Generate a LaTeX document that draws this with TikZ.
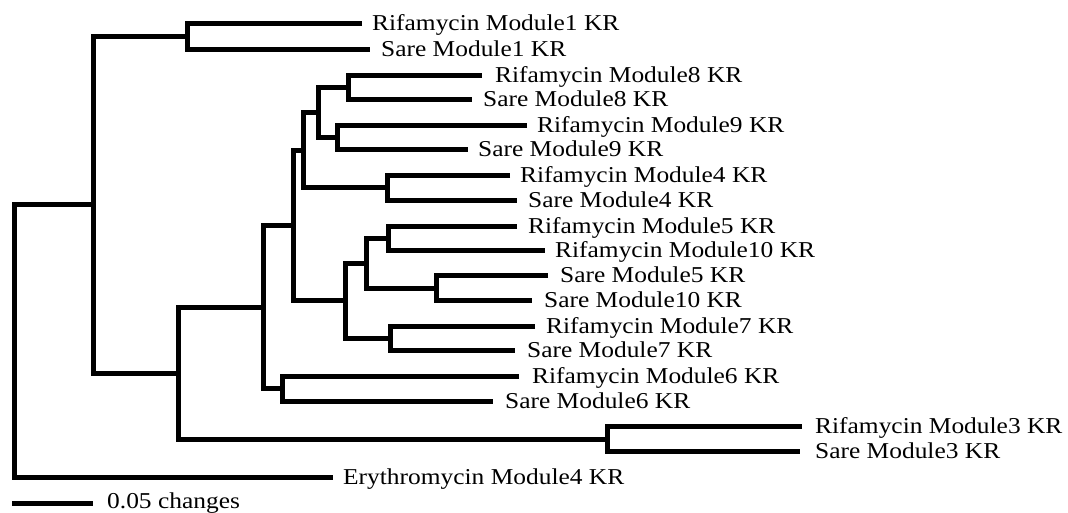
\documentclass[tikz,border=0pt]{standalone}
\usepackage{fontspec}
\setmainfont{Liberation Serif}[FakeStretch=1.12]
\begin{document}
\begin{tikzpicture}[x=1pt,y=-1pt,
  branch/.style={line width=5pt,line join=miter,black},
  lbl/.style={anchor=base west,inner sep=0pt,font=\fontsize{22.7}{27}\selectfont}]
\useasboundingbox (0,0) rectangle (1068,512);
% leaf tips
\coordinate (r1) at (362,23.5);
\coordinate (s1) at (370,49);
\coordinate (r8) at (482,75);
\coordinate (s8) at (472,99.5);
\coordinate (r9) at (527,125.5);
\coordinate (s9) at (468,149.5);
\coordinate (r4) at (510,175.5);
\coordinate (s4) at (517,200);
\coordinate (r5) at (517,226);
\coordinate (r10) at (545,250.5);
\coordinate (s5) at (548,275.5);
\coordinate (s10) at (532,300.5);
\coordinate (r7) at (535,326);
\coordinate (s7) at (515,350.5);
\coordinate (r6) at (519,376);
\coordinate (s6) at (493,401.5);
\coordinate (r3) at (802,426.5);
\coordinate (s3) at (800,451.5);
\coordinate (ery) at (333,477.5);
% labels
\node[lbl] (lr1) at (372,30.5) {Rifamycin Module1 KR};
\node[lbl] (ls1) at (381,56) {Sare Module1 KR};
\node[lbl] (lr8) at (495,82) {Rifamycin Module8 KR};
\node[lbl] (ls8) at (483,106.5) {Sare Module8 KR};
\node[lbl] (lr9) at (537,132.5) {Rifamycin Module9 KR};
\node[lbl] (ls9) at (478,156.5) {Sare Module9 KR};
\node[lbl] (lr4) at (520,182.5) {Rifamycin Module4 KR};
\node[lbl] (ls4) at (528,207) {Sare Module4 KR};
\node[lbl] (lr5) at (528,233) {Rifamycin Module5 KR};
\node[lbl] (lr10) at (555,257.5) {Rifamycin Module10 KR};
\node[lbl] (ls5) at (560,282.5) {Sare Module5 KR};
\node[lbl] (ls10) at (544,307.5) {Sare Module10 KR};
\node[lbl] (lr7) at (546,333) {Rifamycin Module7 KR};
\node[lbl] (ls7) at (527,357.5) {Sare Module7 KR};
\node[lbl] (lr6) at (532,383) {Rifamycin Module6 KR};
\node[lbl] (ls6) at (505,408.5) {Sare Module6 KR};
\node[lbl] (lr3) at (815,433.5) {Rifamycin Module3 KR};
\node[lbl] (ls3) at (815,458.5) {Sare Module3 KR};
\node[lbl] (lery) at (343,484.5) {Erythromycin Module4 KR};
% internal nodes
\coordinate (n8) at (348,87.25);
\coordinate (n9) at (337,137.5);
\coordinate (nG) at (318,112.4);
\coordinate (n4) at (387,187.75);
\coordinate (nE) at (303,150.1);
\coordinate (nr510) at (388,238.25);
\coordinate (ns510) at (436,288);
\coordinate (nH) at (366,263.1);
\coordinate (n7) at (390,338.25);
\coordinate (nF) at (345,300.7);
\coordinate (nD) at (293,225.4);
\coordinate (n6) at (282,388.75);
\coordinate (nC) at (263,307.1);
\coordinate (n3) at (607,439);
\coordinate (nB) at (178,373.05);
\coordinate (n1) at (187,36.25);
\coordinate (nA) at (93,204.65);
\coordinate (root) at (14,341.1);
% branches
\draw[branch] (r8) -| (n8) |- (s8);
\draw[branch] (r9) -| (n9) |- (s9);
\draw[branch] (n8) -| (nG) |- (n9);
\draw[branch] (r4) -| (n4) |- (s4);
\draw[branch] (nG) -| (nE) |- (n4);
\draw[branch] (r5) -| (nr510) |- (r10);
\draw[branch] (s5) -| (ns510) |- (s10);
\draw[branch] (nr510) -| (nH) |- (ns510);
\draw[branch] (r7) -| (n7) |- (s7);
\draw[branch] (nH) -| (nF) |- (n7);
\draw[branch] (nE) -| (nD) |- (nF);
\draw[branch] (r6) -| (n6) |- (s6);
\draw[branch] (nD) -| (nC) |- (n6);
\draw[branch] (r3) -| (n3) |- (s3);
\draw[branch] (nC) -| (nB) |- (n3);
\draw[branch] (r1) -| (n1) |- (s1);
\draw[branch] (n1) -| (nA) |- (nB);
\draw[branch] (nA) -| (root) |- (ery);
% scale bar
\coordinate (sb1) at (12,503);
\coordinate (sb2) at (93,503);
\draw[branch] (sb1) -- (sb2);
\node[lbl] (sbl) at (107,508.5) {0.05 changes};
\end{tikzpicture}
\end{document}
